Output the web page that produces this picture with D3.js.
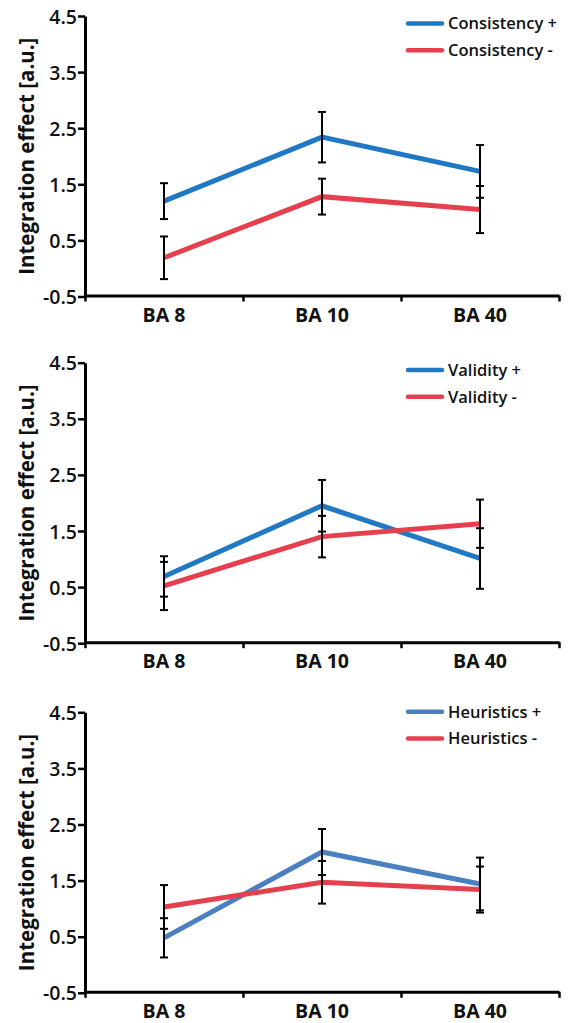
<!DOCTYPE html>
<html>
<head>
<meta charset="utf-8">
<script src="https://cdn.jsdelivr.net/npm/d3@7"></script>
<style>
  body { margin: 0; background: #fff; }
  svg text { font-family: "Open Sans", "Noto Sans", sans-serif; fill: #111; }
</style>
</head>
<body>
<div id="vis"></div>
<script>
// data
var categories = ["BA 8", "BA 10", "BA 40"];
var factors = ["Consistency", "Validity", "Heuristics"];
var yTicks = [-0.5, 0.5, 1.5, 2.5, 3.5, 4.5];

// "+" condition (means, error half-widths) per panel
var plusMeans = [[1.20, 2.34, 1.73], [0.69, 1.95, 1.01], [0.48, 2.01, 1.44]];
var plusErr   = [[0.32, 0.45, 0.47], [0.36, 0.46, 0.54], [0.35, 0.41, 0.47]];
// "-" condition
var minusMeans = [[0.19, 1.28, 1.05], [0.52, 1.40, 1.63], [1.03, 1.47, 1.34]];
var minusErr   = [[0.38, 0.32, 0.42], [0.43, 0.37, 0.43], [0.39, 0.38, 0.41]];

// layout
var width = 568, height = 1023;
var panelTops = [16, 362.7, 712.3];
var panelH = 280.5;
var left = 85, right = 559;
var legendOffset = [7.5, 7.3, -0.6];
var blues = ["#1f78c4", "#2079c4", "#4b80c0"];
var red = "#e6404f";

var svg = d3.select("#vis").append("svg")
    .attr("width", width)
    .attr("height", height);

var x = d3.scaleBand().domain(categories).range([left, right]);
var xEdges = d3.scaleLinear().domain([0, categories.length]).range([left, right]);

factors.forEach(function (name, p) {
  var top = panelTops[p];
  var y = d3.scaleLinear().domain([-0.5, 4.5]).range([top + panelH, top]);
  var g = svg.append("g");

  // y axis
  var yAxis = g.append("g")
      .attr("transform", "translate(" + left + ",0)")
      .call(d3.axisLeft(y).tickValues(yTicks).tickSize(7).tickSizeOuter(0)
        .tickFormat(function (d) { return d.toFixed(1); }));
  yAxis.select(".domain").attr("stroke", "#000").attr("stroke-width", 3);
  yAxis.selectAll(".tick line").attr("stroke", "#000").attr("stroke-width", 2.5);
  yAxis.selectAll(".tick text")
      .attr("x", -8)
      .attr("dy", "0.36em")
      .style("font-size", "19.5px")
      .style("font-weight", 600);

  // x axis: boundary ticks
  var xAxis = g.append("g")
      .attr("transform", "translate(0," + (top + panelH - 1) + ")")
      .call(d3.axisBottom(xEdges).ticks(3).tickSize(6).tickSizeOuter(0).tickFormat(""));
  xAxis.select(".domain").attr("stroke", "#000").attr("stroke-width", 3);
  xAxis.selectAll(".tick line").attr("stroke", "#000").attr("stroke-width", 2.5);

  // category labels
  g.selectAll(".cat")
      .data(categories)
      .enter().append("text")
      .attr("class", "cat")
      .attr("x", function (d) { return x(d) + x.bandwidth() / 2; })
      .attr("y", top + panelH + 25)
      .attr("text-anchor", "middle")
      .style("font-size", "19.5px")
      .style("font-weight", 700)
      .text(function (d) { return d; });

  // y title
  g.append("text")
      .attr("transform", "translate(34," + (top + panelH / 2) + ") rotate(-90)")
      .attr("text-anchor", "middle")
      .style("font-size", "20.5px")
      .style("font-weight", 700)
      .text("Integration effect [a.u.]");

  var series = [
    { label: name + " +", means: plusMeans[p], errs: plusErr[p], color: blues[p] },
    { label: name + " -", means: minusMeans[p], errs: minusErr[p], color: red }
  ];

  var line = d3.line()
      .x(function (d, i) { return x(categories[i]) + x.bandwidth() / 2; })
      .y(function (d) { return y(d); });

  series.forEach(function (s) {
    g.append("path")
        .datum(s.means)
        .attr("d", line)
        .attr("fill", "none")
        .attr("stroke", s.color)
        .attr("stroke-width", 5);
  });

  // error bars on top
  series.forEach(function (s) {
    var eb = g.selectAll(null)
        .data(s.means)
        .enter().append("g")
        .attr("stroke", "#000")
        .attr("stroke-width", 2);
    eb.append("line")
        .attr("x1", function (d, i) { return x(categories[i]) + x.bandwidth() / 2; })
        .attr("x2", function (d, i) { return x(categories[i]) + x.bandwidth() / 2; })
        .attr("y1", function (d, i) { return y(d + s.errs[i]); })
        .attr("y2", function (d, i) { return y(d - s.errs[i]); });
    [1, -1].forEach(function (sign) {
      eb.append("line")
          .attr("x1", function (d, i) { return x(categories[i]) + x.bandwidth() / 2 - 4; })
          .attr("x2", function (d, i) { return x(categories[i]) + x.bandwidth() / 2 + 4; })
          .attr("y1", function (d, i) { return y(d + sign * s.errs[i]); })
          .attr("y2", function (d, i) { return y(d + sign * s.errs[i]); });
    });
  });

  // legend
  var lg = g.append("g")
      .attr("transform", "translate(408," + (top + legendOffset[p]) + ")");
  series.forEach(function (s, i) {
    var row = lg.append("g").attr("transform", "translate(0," + (i * 26.7) + ")");
    row.append("line")
        .attr("x1", 0).attr("x2", 34)
        .attr("stroke", s.color)
        .attr("stroke-width", 4.5)
        .attr("stroke-linecap", "round");
    row.append("text")
        .attr("x", 40)
        .attr("dy", "0.36em")
        .style("font-size", "16.5px")
        .style("font-weight", 600)
        .text(s.label);
  });
});
</script>
</body>
</html>
